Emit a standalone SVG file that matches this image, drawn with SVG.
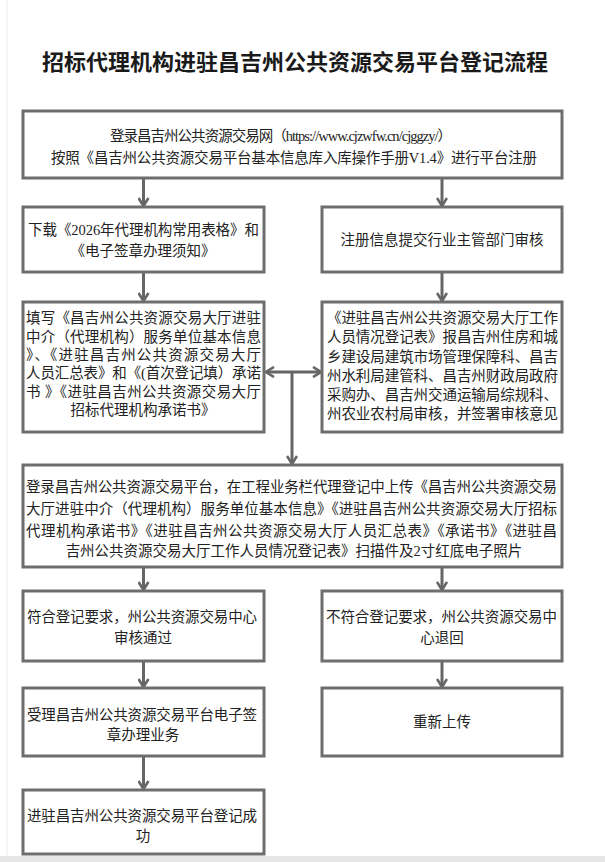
<svg xmlns="http://www.w3.org/2000/svg" width="605" height="862" viewBox="0 0 605 862">
<defs>
<style>
.box{fill:#ffffff;stroke:#6e6e6e;stroke-width:3}
.t{font-family:"Liberation Serif","Noto Sans CJK SC",serif;font-size:14.5px;fill:#222222}
.c{text-anchor:middle}
.title{font-family:"Noto Sans CJK SC",sans-serif;font-size:22px;font-weight:bold;fill:#1a1a1a;text-anchor:middle}
.ln{fill:none;stroke:#666666;stroke-width:3}
</style>
<marker id="ah" viewBox="0 0 10 12" markerWidth="10" markerHeight="12" refX="9" refY="6" orient="auto" markerUnits="userSpaceOnUse">
<path d="M1,1 L9,6 L1,11" fill="none" stroke="#666666" stroke-width="2.6"/>
</marker>
<marker id="ahs" viewBox="0 0 10 12" markerWidth="10" markerHeight="12" refX="1" refY="6" orient="auto" markerUnits="userSpaceOnUse">
<path d="M9,1 L1,6 L9,11" fill="none" stroke="#666666" stroke-width="2.6"/>
</marker>
</defs>
<rect x="0" y="0" width="605" height="862" fill="#ffffff"/>
<line x1="7" y1="0" x2="7" y2="856" stroke="#ececec" stroke-width="1"/>
<rect x="0" y="856" width="605" height="6" fill="#e6e6e6"/>
<text class="title" x="295" y="70">招标代理机构进驻昌吉州公共资源交易平台登记流程</text>

<g id="connectors">
<line class="ln" x1="143.5" y1="179" x2="143.5" y2="206" marker-end="url(#ah)"/>
<line class="ln" x1="442" y1="179" x2="442" y2="206" marker-end="url(#ah)"/>
<line class="ln" x1="143.5" y1="273" x2="143.5" y2="301" marker-end="url(#ah)"/>
<line class="ln" x1="442" y1="273" x2="442" y2="301" marker-end="url(#ah)"/>
<line class="ln" x1="266" y1="372" x2="321" y2="372" marker-start="url(#ahs)" marker-end="url(#ah)"/>
<line class="ln" x1="292" y1="372" x2="292" y2="464" marker-end="url(#ah)"/>
<line class="ln" x1="143.5" y1="567" x2="143.5" y2="590" marker-end="url(#ah)"/>
<line class="ln" x1="442" y1="567" x2="442" y2="590" marker-end="url(#ah)"/>
<line class="ln" x1="143.5" y1="661" x2="143.5" y2="687" marker-end="url(#ah)"/>
<line class="ln" x1="442" y1="661" x2="442" y2="687" marker-end="url(#ah)"/>
<line class="ln" x1="143.5" y1="756" x2="143.5" y2="789" marker-end="url(#ah)"/>
</g>

<g id="n1">
<rect class="box" x="23" y="111" width="539" height="67"/>
<text class="t" x="110" y="141" textLength="342" lengthAdjust="spacing">登录昌吉州公共资源交易网（https://www.cjzwfw.cn/cjggzy/）</text>
<text class="t" x="51" y="163" textLength="486" lengthAdjust="spacing">按照《昌吉州公共资源交易平台基本信息库入库操作手册V1.4》进行平台注册</text>
</g>

<g id="n2">
<rect class="box" x="23" y="207" width="241" height="65"/>
<text class="t" x="28" y="235" textLength="231" lengthAdjust="spacing">下载《2026年代理机构常用表格》和</text>
<text class="t c" x="143" y="256">《电子签章办理须知》</text>
</g>

<g id="n3">
<rect class="box" x="322" y="207" width="240" height="65"/>
<text class="t c" x="442" y="245">注册信息提交行业主管部门审核</text>
</g>

<g id="n4">
<rect class="box" x="23" y="302" width="241" height="130"/>
<text class="t" x="26" y="323" textLength="235" lengthAdjust="spacing">填写《昌吉州公共资源交易大厅进驻</text>
<text class="t" x="26" y="342" textLength="235" lengthAdjust="spacing">中介（代理机构）服务单位基本信息</text>
<text class="t" x="26" y="360" textLength="235" lengthAdjust="spacing">》、《进驻昌吉州公共资源交易大厅</text>
<text class="t" x="26" y="378" textLength="235" lengthAdjust="spacing">人员汇总表》和《(首次登记填）承诺</text>
<text class="t" x="26" y="397" textLength="235" lengthAdjust="spacing">书 》《进驻昌吉州公共资源交易大厅</text>
<text class="t c" x="143" y="415">招标代理机构承诺书》</text>
</g>

<g id="n5">
<rect class="box" x="322" y="302" width="240" height="130"/>
<text class="t" x="327" y="323" textLength="231" lengthAdjust="spacing">《进驻昌吉州公共资源交易大厅工作</text>
<text class="t" x="327" y="342" textLength="231" lengthAdjust="spacing">人员情况登记表》报昌吉州住房和城</text>
<text class="t" x="327" y="362" textLength="231" lengthAdjust="spacing">乡建设局建筑市场管理保障科、昌吉</text>
<text class="t" x="327" y="381" textLength="231" lengthAdjust="spacing">州水利局建管科、昌吉州财政局政府</text>
<text class="t" x="327" y="400" textLength="231" lengthAdjust="spacing">采购办、昌吉州交通运输局综规科、</text>
<text class="t" x="327" y="419" textLength="231" lengthAdjust="spacing">州农业农村局审核，并签署审核意见</text>
</g>

<g id="n6">
<rect class="box" x="23" y="465" width="539" height="102"/>
<text class="t" x="26" y="492" textLength="531" lengthAdjust="spacing">登录昌吉州公共资源交易平台，在工程业务栏代理登记中上传《昌吉州公共资源交易</text>
<text class="t" x="26" y="514" textLength="531" lengthAdjust="spacing">大厅进驻中介（代理机构）服务单位基本信息》《进驻昌吉州公共资源交易大厅招标</text>
<text class="t" x="26" y="536" textLength="531" lengthAdjust="spacing">代理机构承诺书》《进驻昌吉州公共资源交易大厅人员汇总表》《承诺书》《进驻昌</text>
<text class="t c" x="294" y="556">吉州公共资源交易大厅工作人员情况登记表》扫描件及2寸红底电子照片</text>
</g>

<g id="n7">
<rect class="box" x="23" y="591" width="241" height="70"/>
<text class="t" x="27" y="622" textLength="230" lengthAdjust="spacing">符合登记要求，州公共资源交易中心</text>
<text class="t c" x="143" y="643">审核通过</text>
</g>

<g id="n8">
<rect class="box" x="322" y="591" width="240" height="70"/>
<text class="t" x="326" y="622" textLength="231" lengthAdjust="spacing">不符合登记要求，州公共资源交易中</text>
<text class="t c" x="442" y="643">心退回</text>
</g>

<g id="n9">
<rect class="box" x="23" y="688" width="241" height="68"/>
<text class="t" x="27" y="720" textLength="230" lengthAdjust="spacing">受理昌吉州公共资源交易平台电子签</text>
<text class="t c" x="143" y="740">章办理业务</text>
</g>

<g id="n10">
<rect class="box" x="322" y="688" width="240" height="68"/>
<text class="t c" x="442" y="727">重新上传</text>
</g>

<g id="n11">
<rect class="box" x="23" y="790" width="241" height="64"/>
<text class="t" x="27" y="821" textLength="230" lengthAdjust="spacing">进驻昌吉州公共资源交易平台登记成</text>
<text class="t c" x="143" y="841">功</text>
</g>
</svg>
